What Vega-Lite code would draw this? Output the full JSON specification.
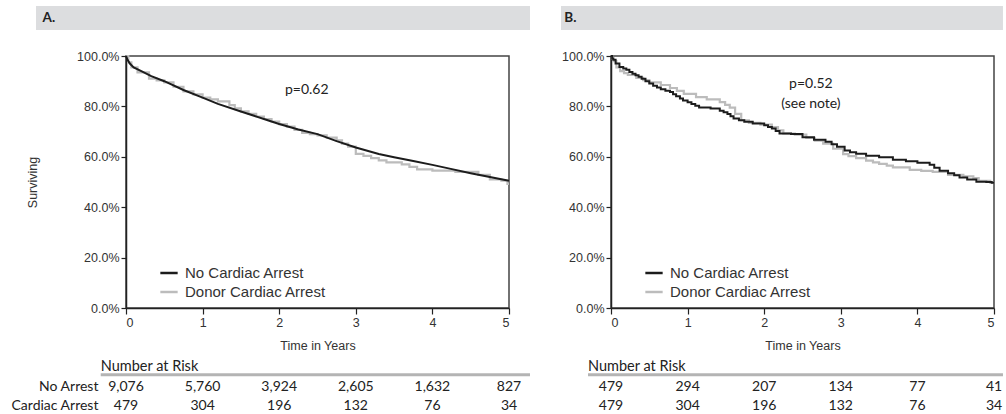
{
  "$schema": "https://vega.github.io/schema/vega-lite/v6.json",
  "background": "white",
  "padding": {"left": 10, "top": 5, "right": 0, "bottom": 0},
  "datasets": {
    "curves": [
      {"panel":"A","group":"No Cardiac Arrest","t":0,"s":1.0},
      {"panel":"A","group":"No Cardiac Arrest","t":0.02,"s":0.985},
      {"panel":"A","group":"No Cardiac Arrest","t":0.05,"s":0.97},
      {"panel":"A","group":"No Cardiac Arrest","t":0.1,"s":0.955},
      {"panel":"A","group":"No Cardiac Arrest","t":0.2,"s":0.94},
      {"panel":"A","group":"No Cardiac Arrest","t":0.33,"s":0.92},
      {"panel":"A","group":"No Cardiac Arrest","t":0.5,"s":0.9},
      {"panel":"A","group":"No Cardiac Arrest","t":0.75,"s":0.865},
      {"panel":"A","group":"No Cardiac Arrest","t":1.0,"s":0.835},
      {"panel":"A","group":"No Cardiac Arrest","t":1.2,"s":0.81},
      {"panel":"A","group":"No Cardiac Arrest","t":1.5,"s":0.78},
      {"panel":"A","group":"No Cardiac Arrest","t":1.85,"s":0.745},
      {"panel":"A","group":"No Cardiac Arrest","t":2.0,"s":0.73},
      {"panel":"A","group":"No Cardiac Arrest","t":2.25,"s":0.708},
      {"panel":"A","group":"No Cardiac Arrest","t":2.5,"s":0.69},
      {"panel":"A","group":"No Cardiac Arrest","t":2.75,"s":0.662},
      {"panel":"A","group":"No Cardiac Arrest","t":3.0,"s":0.637},
      {"panel":"A","group":"No Cardiac Arrest","t":3.3,"s":0.611},
      {"panel":"A","group":"No Cardiac Arrest","t":3.5,"s":0.598},
      {"panel":"A","group":"No Cardiac Arrest","t":3.75,"s":0.583},
      {"panel":"A","group":"No Cardiac Arrest","t":4.0,"s":0.568},
      {"panel":"A","group":"No Cardiac Arrest","t":4.24,"s":0.552},
      {"panel":"A","group":"No Cardiac Arrest","t":4.5,"s":0.535},
      {"panel":"A","group":"No Cardiac Arrest","t":4.75,"s":0.52},
      {"panel":"A","group":"No Cardiac Arrest","t":5.0,"s":0.505},

      {"panel":"A","group":"Donor Cardiac Arrest","t":0,"s":1.0},
      {"panel":"A","group":"Donor Cardiac Arrest","t":0.03,"s":0.975},
      {"panel":"A","group":"Donor Cardiac Arrest","t":0.07,"s":0.955},
      {"panel":"A","group":"Donor Cardiac Arrest","t":0.15,"s":0.935},
      {"panel":"A","group":"Donor Cardiac Arrest","t":0.3,"s":0.91},
      {"panel":"A","group":"Donor Cardiac Arrest","t":0.4,"s":0.903},
      {"panel":"A","group":"Donor Cardiac Arrest","t":0.5,"s":0.895},
      {"panel":"A","group":"Donor Cardiac Arrest","t":0.62,"s":0.878},
      {"panel":"A","group":"Donor Cardiac Arrest","t":0.75,"s":0.86},
      {"panel":"A","group":"Donor Cardiac Arrest","t":0.88,"s":0.848},
      {"panel":"A","group":"Donor Cardiac Arrest","t":1.0,"s":0.835},
      {"panel":"A","group":"Donor Cardiac Arrest","t":1.1,"s":0.828},
      {"panel":"A","group":"Donor Cardiac Arrest","t":1.2,"s":0.82},
      {"panel":"A","group":"Donor Cardiac Arrest","t":1.35,"s":0.805},
      {"panel":"A","group":"Donor Cardiac Arrest","t":1.42,"s":0.792},
      {"panel":"A","group":"Donor Cardiac Arrest","t":1.5,"s":0.78},
      {"panel":"A","group":"Donor Cardiac Arrest","t":1.6,"s":0.77},
      {"panel":"A","group":"Donor Cardiac Arrest","t":1.7,"s":0.76},
      {"panel":"A","group":"Donor Cardiac Arrest","t":1.8,"s":0.75},
      {"panel":"A","group":"Donor Cardiac Arrest","t":1.9,"s":0.74},
      {"panel":"A","group":"Donor Cardiac Arrest","t":2.0,"s":0.73},
      {"panel":"A","group":"Donor Cardiac Arrest","t":2.1,"s":0.72},
      {"panel":"A","group":"Donor Cardiac Arrest","t":2.2,"s":0.707},
      {"panel":"A","group":"Donor Cardiac Arrest","t":2.3,"s":0.695},
      {"panel":"A","group":"Donor Cardiac Arrest","t":2.4,"s":0.69},
      {"panel":"A","group":"Donor Cardiac Arrest","t":2.5,"s":0.685},
      {"panel":"A","group":"Donor Cardiac Arrest","t":2.62,"s":0.676},
      {"panel":"A","group":"Donor Cardiac Arrest","t":2.75,"s":0.665},
      {"panel":"A","group":"Donor Cardiac Arrest","t":2.82,"s":0.652},
      {"panel":"A","group":"Donor Cardiac Arrest","t":2.9,"s":0.64},
      {"panel":"A","group":"Donor Cardiac Arrest","t":3.0,"s":0.612},
      {"panel":"A","group":"Donor Cardiac Arrest","t":3.1,"s":0.604},
      {"panel":"A","group":"Donor Cardiac Arrest","t":3.2,"s":0.595},
      {"panel":"A","group":"Donor Cardiac Arrest","t":3.3,"s":0.586},
      {"panel":"A","group":"Donor Cardiac Arrest","t":3.4,"s":0.578},
      {"panel":"A","group":"Donor Cardiac Arrest","t":3.6,"s":0.57},
      {"panel":"A","group":"Donor Cardiac Arrest","t":3.7,"s":0.56},
      {"panel":"A","group":"Donor Cardiac Arrest","t":3.8,"s":0.55},
      {"panel":"A","group":"Donor Cardiac Arrest","t":4.0,"s":0.545},
      {"panel":"A","group":"Donor Cardiac Arrest","t":4.3,"s":0.54},
      {"panel":"A","group":"Donor Cardiac Arrest","t":4.6,"s":0.528},
      {"panel":"A","group":"Donor Cardiac Arrest","t":4.75,"s":0.51},
      {"panel":"A","group":"Donor Cardiac Arrest","t":4.9,"s":0.505},
      {"panel":"A","group":"Donor Cardiac Arrest","t":4.98,"s":0.492},
      {"panel":"A","group":"Donor Cardiac Arrest","t":5.0,"s":0.492},

      {"panel":"B","group":"No Cardiac Arrest","t":0,"s":1.0},
      {"panel":"B","group":"No Cardiac Arrest","t":0.015,"s":0.99},
      {"panel":"B","group":"No Cardiac Arrest","t":0.03,"s":0.985},
      {"panel":"B","group":"No Cardiac Arrest","t":0.06,"s":0.97},
      {"panel":"B","group":"No Cardiac Arrest","t":0.11,"s":0.956},
      {"panel":"B","group":"No Cardiac Arrest","t":0.16,"s":0.95},
      {"panel":"B","group":"No Cardiac Arrest","t":0.2,"s":0.945},
      {"panel":"B","group":"No Cardiac Arrest","t":0.24,"s":0.937},
      {"panel":"B","group":"No Cardiac Arrest","t":0.28,"s":0.93},
      {"panel":"B","group":"No Cardiac Arrest","t":0.32,"s":0.924},
      {"panel":"B","group":"No Cardiac Arrest","t":0.36,"s":0.918},
      {"panel":"B","group":"No Cardiac Arrest","t":0.4,"s":0.91},
      {"panel":"B","group":"No Cardiac Arrest","t":0.45,"s":0.9},
      {"panel":"B","group":"No Cardiac Arrest","t":0.5,"s":0.891},
      {"panel":"B","group":"No Cardiac Arrest","t":0.55,"s":0.882},
      {"panel":"B","group":"No Cardiac Arrest","t":0.6,"s":0.875},
      {"panel":"B","group":"No Cardiac Arrest","t":0.65,"s":0.868},
      {"panel":"B","group":"No Cardiac Arrest","t":0.71,"s":0.862},
      {"panel":"B","group":"No Cardiac Arrest","t":0.77,"s":0.857},
      {"panel":"B","group":"No Cardiac Arrest","t":0.81,"s":0.848},
      {"panel":"B","group":"No Cardiac Arrest","t":0.85,"s":0.84},
      {"panel":"B","group":"No Cardiac Arrest","t":0.9,"s":0.831},
      {"panel":"B","group":"No Cardiac Arrest","t":0.94,"s":0.823},
      {"panel":"B","group":"No Cardiac Arrest","t":1.0,"s":0.816},
      {"panel":"B","group":"No Cardiac Arrest","t":1.05,"s":0.81},
      {"panel":"B","group":"No Cardiac Arrest","t":1.1,"s":0.803},
      {"panel":"B","group":"No Cardiac Arrest","t":1.15,"s":0.796},
      {"panel":"B","group":"No Cardiac Arrest","t":1.3,"s":0.792},
      {"panel":"B","group":"No Cardiac Arrest","t":1.42,"s":0.783},
      {"panel":"B","group":"No Cardiac Arrest","t":1.47,"s":0.777},
      {"panel":"B","group":"No Cardiac Arrest","t":1.52,"s":0.77},
      {"panel":"B","group":"No Cardiac Arrest","t":1.56,"s":0.761},
      {"panel":"B","group":"No Cardiac Arrest","t":1.6,"s":0.752},
      {"panel":"B","group":"No Cardiac Arrest","t":1.67,"s":0.745},
      {"panel":"B","group":"No Cardiac Arrest","t":1.74,"s":0.739},
      {"panel":"B","group":"No Cardiac Arrest","t":1.85,"s":0.732},
      {"panel":"B","group":"No Cardiac Arrest","t":2.0,"s":0.725},
      {"panel":"B","group":"No Cardiac Arrest","t":2.05,"s":0.718},
      {"panel":"B","group":"No Cardiac Arrest","t":2.1,"s":0.712},
      {"panel":"B","group":"No Cardiac Arrest","t":2.15,"s":0.702},
      {"panel":"B","group":"No Cardiac Arrest","t":2.2,"s":0.692},
      {"panel":"B","group":"No Cardiac Arrest","t":2.35,"s":0.69},
      {"panel":"B","group":"No Cardiac Arrest","t":2.5,"s":0.678},
      {"panel":"B","group":"No Cardiac Arrest","t":2.65,"s":0.668},
      {"panel":"B","group":"No Cardiac Arrest","t":2.8,"s":0.66},
      {"panel":"B","group":"No Cardiac Arrest","t":2.88,"s":0.65},
      {"panel":"B","group":"No Cardiac Arrest","t":2.95,"s":0.64},
      {"panel":"B","group":"No Cardiac Arrest","t":3.05,"s":0.625},
      {"panel":"B","group":"No Cardiac Arrest","t":3.12,"s":0.618},
      {"panel":"B","group":"No Cardiac Arrest","t":3.2,"s":0.612},
      {"panel":"B","group":"No Cardiac Arrest","t":3.33,"s":0.604},
      {"panel":"B","group":"No Cardiac Arrest","t":3.5,"s":0.598},
      {"panel":"B","group":"No Cardiac Arrest","t":3.68,"s":0.588},
      {"panel":"B","group":"No Cardiac Arrest","t":3.85,"s":0.582},
      {"panel":"B","group":"No Cardiac Arrest","t":4.0,"s":0.576},
      {"panel":"B","group":"No Cardiac Arrest","t":4.16,"s":0.568},
      {"panel":"B","group":"No Cardiac Arrest","t":4.22,"s":0.557},
      {"panel":"B","group":"No Cardiac Arrest","t":4.29,"s":0.545},
      {"panel":"B","group":"No Cardiac Arrest","t":4.4,"s":0.535},
      {"panel":"B","group":"No Cardiac Arrest","t":4.48,"s":0.527},
      {"panel":"B","group":"No Cardiac Arrest","t":4.55,"s":0.518},
      {"panel":"B","group":"No Cardiac Arrest","t":4.65,"s":0.51},
      {"panel":"B","group":"No Cardiac Arrest","t":4.77,"s":0.501},
      {"panel":"B","group":"No Cardiac Arrest","t":4.9,"s":0.5},
      {"panel":"B","group":"No Cardiac Arrest","t":4.97,"s":0.497},
      {"panel":"B","group":"No Cardiac Arrest","t":5.0,"s":0.497},

      {"panel":"B","group":"Donor Cardiac Arrest","t":0,"s":1.0},
      {"panel":"B","group":"Donor Cardiac Arrest","t":0.015,"s":0.99},
      {"panel":"B","group":"Donor Cardiac Arrest","t":0.03,"s":0.98},
      {"panel":"B","group":"Donor Cardiac Arrest","t":0.07,"s":0.955},
      {"panel":"B","group":"Donor Cardiac Arrest","t":0.12,"s":0.94},
      {"panel":"B","group":"Donor Cardiac Arrest","t":0.17,"s":0.932},
      {"panel":"B","group":"Donor Cardiac Arrest","t":0.22,"s":0.925},
      {"panel":"B","group":"Donor Cardiac Arrest","t":0.33,"s":0.913},
      {"panel":"B","group":"Donor Cardiac Arrest","t":0.42,"s":0.904},
      {"panel":"B","group":"Donor Cardiac Arrest","t":0.5,"s":0.895},
      {"panel":"B","group":"Donor Cardiac Arrest","t":0.65,"s":0.885},
      {"panel":"B","group":"Donor Cardiac Arrest","t":0.77,"s":0.873},
      {"panel":"B","group":"Donor Cardiac Arrest","t":0.86,"s":0.862},
      {"panel":"B","group":"Donor Cardiac Arrest","t":0.95,"s":0.85},
      {"panel":"B","group":"Donor Cardiac Arrest","t":1.11,"s":0.837},
      {"panel":"B","group":"Donor Cardiac Arrest","t":1.25,"s":0.828},
      {"panel":"B","group":"Donor Cardiac Arrest","t":1.42,"s":0.817},
      {"panel":"B","group":"Donor Cardiac Arrest","t":1.49,"s":0.806},
      {"panel":"B","group":"Donor Cardiac Arrest","t":1.55,"s":0.795},
      {"panel":"B","group":"Donor Cardiac Arrest","t":1.62,"s":0.77},
      {"panel":"B","group":"Donor Cardiac Arrest","t":1.7,"s":0.745},
      {"panel":"B","group":"Donor Cardiac Arrest","t":1.8,"s":0.735},
      {"panel":"B","group":"Donor Cardiac Arrest","t":1.95,"s":0.728},
      {"panel":"B","group":"Donor Cardiac Arrest","t":2.1,"s":0.718},
      {"panel":"B","group":"Donor Cardiac Arrest","t":2.18,"s":0.705},
      {"panel":"B","group":"Donor Cardiac Arrest","t":2.25,"s":0.692},
      {"panel":"B","group":"Donor Cardiac Arrest","t":2.4,"s":0.688},
      {"panel":"B","group":"Donor Cardiac Arrest","t":2.55,"s":0.675},
      {"panel":"B","group":"Donor Cardiac Arrest","t":2.66,"s":0.664},
      {"panel":"B","group":"Donor Cardiac Arrest","t":2.77,"s":0.652},
      {"panel":"B","group":"Donor Cardiac Arrest","t":2.9,"s":0.632},
      {"panel":"B","group":"Donor Cardiac Arrest","t":3.03,"s":0.611},
      {"panel":"B","group":"Donor Cardiac Arrest","t":3.1,"s":0.603},
      {"panel":"B","group":"Donor Cardiac Arrest","t":3.2,"s":0.595},
      {"panel":"B","group":"Donor Cardiac Arrest","t":3.33,"s":0.585},
      {"panel":"B","group":"Donor Cardiac Arrest","t":3.42,"s":0.578},
      {"panel":"B","group":"Donor Cardiac Arrest","t":3.5,"s":0.572},
      {"panel":"B","group":"Donor Cardiac Arrest","t":3.6,"s":0.565},
      {"panel":"B","group":"Donor Cardiac Arrest","t":3.68,"s":0.558},
      {"panel":"B","group":"Donor Cardiac Arrest","t":3.9,"s":0.548},
      {"panel":"B","group":"Donor Cardiac Arrest","t":4.05,"s":0.544},
      {"panel":"B","group":"Donor Cardiac Arrest","t":4.2,"s":0.54},
      {"panel":"B","group":"Donor Cardiac Arrest","t":4.4,"s":0.528},
      {"panel":"B","group":"Donor Cardiac Arrest","t":4.6,"s":0.522},
      {"panel":"B","group":"Donor Cardiac Arrest","t":4.73,"s":0.515},
      {"panel":"B","group":"Donor Cardiac Arrest","t":4.8,"s":0.505},
      {"panel":"B","group":"Donor Cardiac Arrest","t":4.95,"s":0.497},
      {"panel":"B","group":"Donor Cardiac Arrest","t":5.0,"s":0.497}
    ],
    "risk": [
      {"panel":"A","row":"No Arrest","t":0,"n":"9,076"},
      {"panel":"A","row":"No Arrest","t":1,"n":"5,760"},
      {"panel":"A","row":"No Arrest","t":2,"n":"3,924"},
      {"panel":"A","row":"No Arrest","t":3,"n":"2,605"},
      {"panel":"A","row":"No Arrest","t":4,"n":"1,632"},
      {"panel":"A","row":"No Arrest","t":5,"n":"827"},
      {"panel":"A","row":"Cardiac Arrest","t":0,"n":"479"},
      {"panel":"A","row":"Cardiac Arrest","t":1,"n":"304"},
      {"panel":"A","row":"Cardiac Arrest","t":2,"n":"196"},
      {"panel":"A","row":"Cardiac Arrest","t":3,"n":"132"},
      {"panel":"A","row":"Cardiac Arrest","t":4,"n":"76"},
      {"panel":"A","row":"Cardiac Arrest","t":5,"n":"34"},
      {"panel":"B","row":"No Arrest","t":0,"n":"479"},
      {"panel":"B","row":"No Arrest","t":1,"n":"294"},
      {"panel":"B","row":"No Arrest","t":2,"n":"207"},
      {"panel":"B","row":"No Arrest","t":3,"n":"134"},
      {"panel":"B","row":"No Arrest","t":4,"n":"77"},
      {"panel":"B","row":"No Arrest","t":5,"n":"41"},
      {"panel":"B","row":"Cardiac Arrest","t":0,"n":"479"},
      {"panel":"B","row":"Cardiac Arrest","t":1,"n":"304"},
      {"panel":"B","row":"Cardiac Arrest","t":2,"n":"196"},
      {"panel":"B","row":"Cardiac Arrest","t":3,"n":"132"},
      {"panel":"B","row":"Cardiac Arrest","t":4,"n":"76"},
      {"panel":"B","row":"Cardiac Arrest","t":5,"n":"34"}
    ]
  },
  "spacing": 102,
  "bounds": "flush",
  "resolve": {"legend": {"color": "independent"}, "scale": {"x": "independent", "y": "independent"}},
  "hconcat": [
    {
      "width": 383,
      "height": 252,
      "layer": [
        {
          "data": {"values": [{}]},
          "mark": {"type": "rect", "fill": "#dcdddf"},
          "encoding": {
            "x": {"datum": -1.175, "type": "quantitative"},
            "x2": {"datum": 5.274},
            "y": {"datum": 1.198, "type": "quantitative"},
            "y2": {"datum": 1.103}
          }
        },
        {
          "data": {"values": [{}]},
          "mark": {"type": "text", "text": "A.", "font": "Lato", "fontWeight": "bold", "fontSize": 13.5, "align": "left", "baseline": "middle", "color": "#222"},
          "encoding": {
            "x": {"datum": -1.09, "type": "quantitative"},
            "y": {"datum": 1.15, "type": "quantitative"}
          }
        },
        {
          "data": {"name": "curves"},
          "transform": [{"filter": "datum.panel == 'A' && datum.group == 'Donor Cardiac Arrest'"}],
          "mark": {"type": "line", "interpolate": "step-after", "strokeWidth": 2.2},
          "encoding": {
            "x": {"field": "t", "type": "quantitative", "scale": {"domain": [0, 5], "nice": false},
                  "axis": {"title": "Time in Years", "values": [0,1,2,3,4,5], "format": "d", "grid": false}},
            "y": {"field": "s", "type": "quantitative", "scale": {"domain": [0, 1], "nice": false},
                  "axis": {"title": "Surviving", "titlePadding": 37, "values": [0,0.1,0.2,0.3,0.4,0.5,0.6,0.7,0.8,0.9,1.0], "labelExpr": "round(datum.value*10) % 2 == 0 ? format(datum.value, '.1%') : ''", "grid": false, "tickSize": 5}},
            "color": {"field": "group", "type": "nominal",
                      "scale": {"domain": ["No Cardiac Arrest", "Donor Cardiac Arrest"], "range": ["#1c1c1c", "#bcbcbc"]},
                      "legend": {"title": null, "orient": "none", "legendX": 33, "legendY": 207}}
          }
        },
        {
          "data": {"name": "curves"},
          "transform": [{"filter": "datum.panel == 'A' && datum.group == 'No Cardiac Arrest'"}],
          "mark": {"type": "line", "interpolate": "linear", "strokeWidth": 2},
          "encoding": {
            "x": {"field": "t", "type": "quantitative"},
            "y": {"field": "s", "type": "quantitative"},
            "color": {"field": "group", "type": "nominal"}
          }
        },
        {
          "data": {"values": [{}]},
          "mark": {"type": "text", "text": "p=0.62", "font": "Lato", "fontSize": 14, "align": "center", "baseline": "middle", "color": "#222"},
          "encoding": {
            "x": {"datum": 2.36, "type": "quantitative"},
            "y": {"datum": 0.866, "type": "quantitative"}
          }
        },
        {
          "data": {"values": [{}]},
          "mark": {"type": "text", "text": "Number at Risk", "font": "Lato", "fontSize": 14.5, "align": "left", "baseline": "alphabetic", "color": "#222"},
          "encoding": {
            "x": {"datum": -0.33, "type": "quantitative"},
            "y": {"datum": -0.25, "type": "quantitative"}
          }
        },
        {
          "data": {"values": [{}]},
          "mark": {"type": "rule", "stroke": "#b4b4b4", "strokeWidth": 3},
          "encoding": {
            "x": {"datum": -0.33, "type": "quantitative"},
            "x2": {"datum": 5.274},
            "y": {"datum": -0.265, "type": "quantitative"}
          }
        },
        {
          "data": {"values": [{}]},
          "mark": {"type": "text", "text": "No Arrest", "font": "Lato", "fontSize": 14, "align": "right", "baseline": "middle", "color": "#222"},
          "encoding": {
            "x": {"datum": -0.36, "type": "quantitative"},
            "y": {"datum": -0.315, "type": "quantitative"}
          }
        },
        {
          "data": {"values": [{}]},
          "mark": {"type": "text", "text": "Cardiac Arrest", "font": "Lato", "fontSize": 14, "align": "right", "baseline": "middle", "color": "#222"},
          "encoding": {
            "x": {"datum": -0.36, "type": "quantitative"},
            "y": {"datum": -0.388, "type": "quantitative"}
          }
        },
        {
          "data": {"name": "risk"},
          "transform": [{"filter": "datum.panel == 'A' && datum.row == 'No Arrest'"}],
          "mark": {"type": "text", "font": "Lato", "fontSize": 14, "align": "center", "baseline": "middle", "color": "#222"},
          "encoding": {
            "x": {"field": "t", "type": "quantitative"},
            "y": {"datum": -0.315, "type": "quantitative"},
            "text": {"field": "n"}
          }
        },
        {
          "data": {"name": "risk"},
          "transform": [{"filter": "datum.panel == 'A' && datum.row == 'Cardiac Arrest'"}],
          "mark": {"type": "text", "font": "Lato", "fontSize": 14, "align": "center", "baseline": "middle", "color": "#222"},
          "encoding": {
            "x": {"field": "t", "type": "quantitative"},
            "y": {"datum": -0.388, "type": "quantitative"},
            "text": {"field": "n"}
          }
        }
      ]
    },
    {
      "width": 383,
      "height": 252,
      "layer": [
        {
          "data": {"values": [{}]},
          "mark": {"type": "rect", "fill": "#dcdddf"},
          "encoding": {
            "x": {"datum": -0.653, "type": "quantitative"},
            "x2": {"datum": 5.117},
            "y": {"datum": 1.198, "type": "quantitative"},
            "y2": {"datum": 1.103}
          }
        },
        {
          "data": {"values": [{}]},
          "mark": {"type": "text", "text": "B.", "font": "Lato", "fontWeight": "bold", "fontSize": 13.5, "align": "left", "baseline": "middle", "color": "#222"},
          "encoding": {
            "x": {"datum": -0.61, "type": "quantitative"},
            "y": {"datum": 1.15, "type": "quantitative"}
          }
        },
        {
          "data": {"name": "curves"},
          "transform": [{"filter": "datum.panel == 'B' && datum.group == 'Donor Cardiac Arrest'"}],
          "mark": {"type": "line", "interpolate": "step-after", "strokeWidth": 2.2},
          "encoding": {
            "x": {"field": "t", "type": "quantitative", "scale": {"domain": [0, 5], "nice": false},
                  "axis": {"title": "Time in Years", "values": [0,1,2,3,4,5], "format": "d", "grid": false}},
            "y": {"field": "s", "type": "quantitative", "scale": {"domain": [0, 1], "nice": false},
                  "axis": {"title": null, "values": [0,0.1,0.2,0.3,0.4,0.5,0.6,0.7,0.8,0.9,1.0], "labelExpr": "round(datum.value*10) % 2 == 0 ? format(datum.value, '.1%') : ''", "grid": false, "tickSize": 5}},
            "color": {"field": "group", "type": "nominal",
                      "scale": {"domain": ["No Cardiac Arrest", "Donor Cardiac Arrest"], "range": ["#1c1c1c", "#bcbcbc"]},
                      "legend": {"title": null, "orient": "none", "legendX": 33, "legendY": 207}}
          }
        },
        {
          "data": {"name": "curves"},
          "transform": [{"filter": "datum.panel == 'B' && datum.group == 'No Cardiac Arrest'"}],
          "mark": {"type": "line", "interpolate": "step-after", "strokeWidth": 2},
          "encoding": {
            "x": {"field": "t", "type": "quantitative"},
            "y": {"field": "s", "type": "quantitative"},
            "color": {"field": "group", "type": "nominal"}
          }
        },
        {
          "data": {"values": [{}]},
          "mark": {"type": "text", "text": "p=0.52", "font": "Lato", "fontSize": 14, "align": "center", "baseline": "middle", "color": "#222"},
          "encoding": {
            "x": {"datum": 2.61, "type": "quantitative"},
            "y": {"datum": 0.889, "type": "quantitative"}
          }
        },
        {
          "data": {"values": [{}]},
          "mark": {"type": "text", "text": "(see note)", "font": "Lato", "fontSize": 14, "align": "center", "baseline": "middle", "color": "#222"},
          "encoding": {
            "x": {"datum": 2.61, "type": "quantitative"},
            "y": {"datum": 0.81, "type": "quantitative"}
          }
        },
        {
          "data": {"values": [{}]},
          "mark": {"type": "text", "text": "Number at Risk", "font": "Lato", "fontSize": 14.5, "align": "left", "baseline": "alphabetic", "color": "#222"},
          "encoding": {
            "x": {"datum": -0.3, "type": "quantitative"},
            "y": {"datum": -0.25, "type": "quantitative"}
          }
        },
        {
          "data": {"values": [{}]},
          "mark": {"type": "rule", "stroke": "#b4b4b4", "strokeWidth": 3},
          "encoding": {
            "x": {"datum": -0.3, "type": "quantitative"},
            "x2": {"datum": 5.117},
            "y": {"datum": -0.265, "type": "quantitative"}
          }
        },
        {
          "data": {"name": "risk"},
          "transform": [{"filter": "datum.panel == 'B' && datum.row == 'No Arrest'"}],
          "mark": {"type": "text", "font": "Lato", "fontSize": 14, "align": "center", "baseline": "middle", "color": "#222"},
          "encoding": {
            "x": {"field": "t", "type": "quantitative"},
            "y": {"datum": -0.315, "type": "quantitative"},
            "text": {"field": "n"}
          }
        },
        {
          "data": {"name": "risk"},
          "transform": [{"filter": "datum.panel == 'B' && datum.row == 'Cardiac Arrest'"}],
          "mark": {"type": "text", "font": "Lato", "fontSize": 14, "align": "center", "baseline": "middle", "color": "#222"},
          "encoding": {
            "x": {"field": "t", "type": "quantitative"},
            "y": {"datum": -0.388, "type": "quantitative"},
            "text": {"field": "n"}
          }
        }
      ]
    }
  ],
  "config": {
    "view": {"stroke": "#444", "strokeWidth": 1.5},
    "axis": {
      "labelFont": "Liberation Sans", "labelFontSize": 12.5, "labelColor": "#333",
      "titleFont": "Liberation Sans", "titleFontSize": 12.5, "titleFontWeight": "normal", "titleColor": "#333",
      "domainColor": "#222", "domainWidth": 1.5, "tickColor": "#222", "tickWidth": 1.2, "tickSize": 6, "labelPadding": 2
    },
    "axisX": {"titlePadding": 11},
    "legend": {
      "labelFont": "Liberation Sans", "labelFontSize": 15, "labelColor": "#333",
      "symbolType": "stroke", "symbolSize": 300, "symbolStrokeWidth": 2.5, "rowPadding": 1, "labelOffset": 6
    }
  }
}
